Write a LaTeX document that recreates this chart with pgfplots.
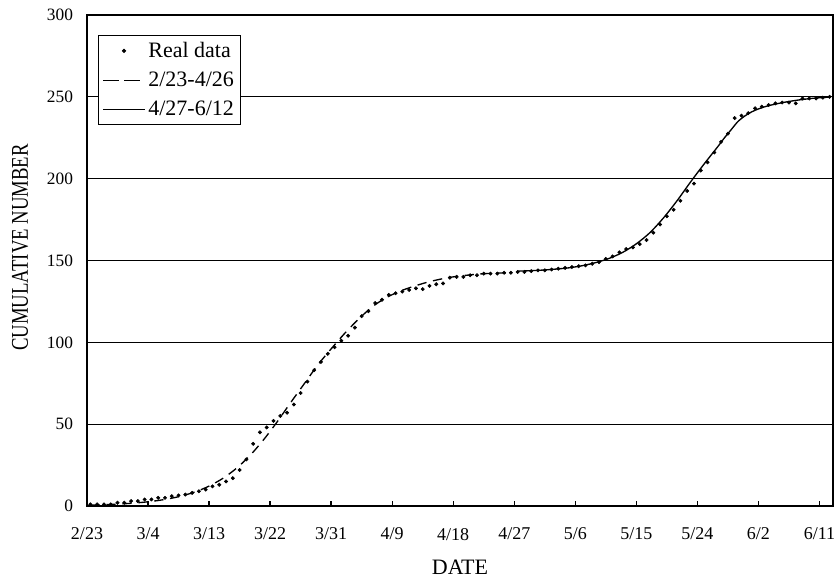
\documentclass[border=0pt]{standalone}
\usepackage{pgfplots}
\pgfplotsset{compat=1.18}
\usepackage{fontspec}
\setmainfont{Liberation Serif}
\newfontfamily\ylabfont{Liberation Serif}[FakeStretch=0.78]
\pgfplotsset{
  dotleg/.style={legend image code/.code={\draw[##1] plot coordinates {(15.75pt,0pt)};}},
  dashleg/.style={legend image code/.code={\draw[##1, dash pattern=on 12pt off 4pt] (0pt,0pt) -- (31.5pt,0pt);}},
  lineleg/.style={legend image code/.code={\draw[##1] (0pt,0pt) -- (31.5pt,0pt);}},
}
\begin{document}
\begin{tikzpicture}
\begin{axis}[
  at={(0pt,0pt)}, anchor=south west, scale only axis,
  width=559.5pt, height=368.25pt,
  xmin=0, xmax=110, ymin=0, ymax=300,
  xtick={0,9,...,108},
  xticklabels={2/23,3/4,3/13,3/22,3/31,4/9,4/18,4/27,5/6,5/15,5/24,6/2,6/11},
  ytick={0,50,...,300},
  /pgf/number format/assume math mode=true,
  xtick pos=bottom, ytick pos=left, tick align=inside,
  major tick length=3.75pt,
  xtick style={line width=1pt, black},
  ytick style={draw=none},
  ymajorgrids, grid style={black, line width=0.9pt},
  axis line style={line width=1pt},
  xticklabel style={font=\fontsize{13.5}{15}\selectfont, yshift=-13pt},
  yticklabel style={font=\fontsize{13}{15}\selectfont, xshift=-7pt},
  xlabel={DATE}, ylabel={CUMULATIVE NUMBER},
  xlabel style={font=\fontsize{16.5}{19}\selectfont, at={(axis description cs:0.5,0)}, anchor=center, yshift=-45.75pt},
  ylabel style={font=\ylabfont\fontsize{18}{20}\selectfont, at={(axis description cs:0,0.5265)}, anchor=center, yshift=50.25pt},
  legend style={at={(0.0147,0.959)}, anchor=north west, draw=black, line width=0.6pt,
    font=\fontsize{16.5}{19}\selectfont, inner xsep=3pt, inner ysep=4pt, row sep=7.4pt,
    legend cell align=left, nodes={inner xsep=2pt, inner ysep=1pt}},
]
\addplot[only marks, mark=*, mark size=1.25pt, black, dotleg] coordinates {
(0.5,1) (1.5,1) (2.5,1) (3.5,1) (4.5,2) (5.5,2) (6.5,3) (7.5,3) (8.5,4) (9.5,4)
(10.5,5) (11.5,5) (12.5,6) (13.5,6.5) (14.5,7) (15.5,8) (16.5,9) (17.5,10) (18.5,12) (19.5,13)
(20.5,15) (21.5,17) (22.5,22) (23.5,28.5) (24.5,38) (25.5,45) (26.5,48) (27.5,52) (28.5,55) (29.5,57)
(30.5,62) (31.5,69) (32.5,76) (33.5,83) (34.5,88) (35.5,93) (36.5,97) (37.5,101) (38.5,104) (39.5,109)
(40.5,116) (41.5,119) (42.5,124) (43.5,126) (44.5,129) (45.5,130) (46.5,131) (47.5,132) (48.5,133) (49.5,132.5)
(50.5,134.5) (51.5,135.5) (52.5,136) (53.5,139.5) (54.5,140) (55.5,140) (56.5,141) (57.5,141) (58.5,142) (59.5,142)
(60.5,142) (61.5,142.5) (62.5,142.5) (63.5,143) (64.5,143) (65.5,143.5) (66.5,144) (67.5,144) (68.5,144.5) (69.5,145)
(70.5,145.5) (71.5,146) (72.5,146.5) (73.5,147) (74.5,148) (75.5,149) (76.5,151) (77.5,152.5) (78.5,155) (79.5,157)
(80.5,158) (81.5,160) (82.5,162.5) (83.5,167) (84.5,172) (85.5,177) (86.5,181) (87.5,186.5) (88.5,192.5) (89.5,197)
(90.5,205) (91.5,210) (92.5,216) (93.5,222.5) (94.5,227.5) (95.5,237) (96.5,238.5) (97.5,240) (98.5,243) (99.5,244)
(100.5,245) (101.5,246) (102.5,246.5) (103.5,246.5) (104.5,246) (105.5,249) (106.5,249) (107.5,249) (108.5,249.5) (109.5,250)
};
\addlegendentry{Real data}
\addplot[black, line width=1pt, dash pattern=on 7pt off 5pt, smooth, dashleg] coordinates {
(0.5,0.55) (2,0.74) (4,1.06) (6,1.52) (8,2.16) (10,3.08) (12,4.37) (14,6.19) (16,8.70) (18,12.16)
(20,16.80) (22,22.92) (24,30.72) (26,40.28) (28,51.2) (30,63) (32,74.5) (34,86) (36,96) (38,105.5)
(40,114) (42,121.5) (44,127) (46,131) (48,134) (50,136.5) (52,138.5) (54,140) (56,141) (58,141.8)
(60,142.2) (62,142.5) (62.5,142.6)
};
\addlegendentry{2/23-4/26}
\addplot[black, line width=1pt, smooth, lineleg] coordinates {
(63.5,143.5) (65,143.7) (67,144.1) (69,144.7) (71,145.5) (73,146.8) (75,148.7) (77,151.3) (79,155) (81,160.2)
(83,167) (85,176) (87,186.5) (89,198) (91,209) (93,219.5) (94,225) (95,230) (96,235) (97,238.3)
(98,240.8) (99,242.6) (100,244) (101,245.1) (103,246.8) (105,248.1) (107,249.1) (109,249.7) (109.5,249.8)
};
\addlegendentry{4/27-6/12}
\draw[line width=1.6pt] (rel axis cs:0,1) -- (rel axis cs:0,0) -- (rel axis cs:1,0);
\end{axis}
\pgfresetboundingbox
\path[use as bounding box] (-65.25pt,-56.25pt) rectangle (562.5pt,379.5pt);
\end{tikzpicture}
\end{document}
